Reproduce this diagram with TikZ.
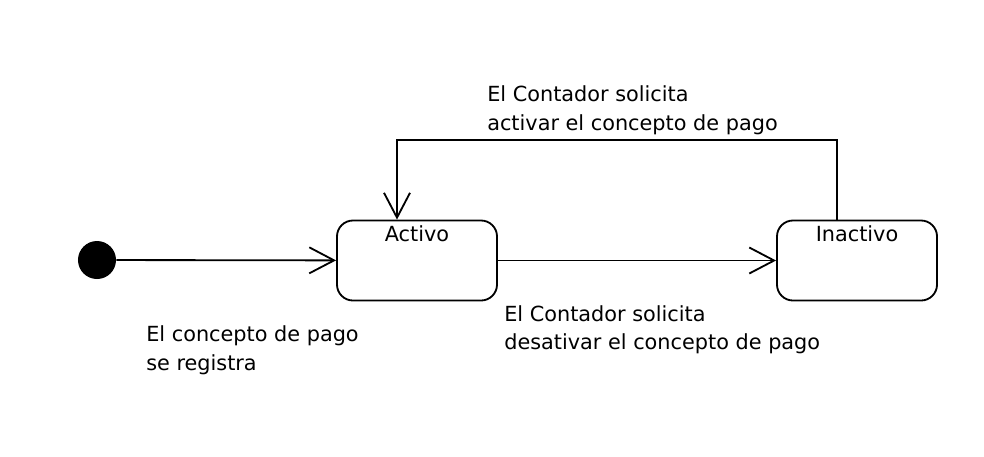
\documentclass[tikz,border=0pt]{standalone}
\usepackage{fontspec}
\setmainfont{DejaVu Sans}
\usetikzlibrary{arrows.meta,positioning}

\begin{document}
\begin{tikzpicture}[x=0.025cm, y=-0.025cm,
  every node/.style={font=\fontsize{14.8}{20}\selectfont},
  stbox/.style={draw, line width=1.3pt, rounded corners=0.4cm, minimum width=4cm, minimum height=2cm, inner sep=0pt},
  init/.style={circle, fill=black, minimum size=0.95cm, inner sep=0pt},
  txt/.style={align=left, anchor=base west, inner sep=0pt},
  arr/.style={-{Straight Barb[length=0.62cm, width=0.65cm, line width=1.3pt]}, line width=1.3pt}
]
\useasboundingbox (0,0) rectangle (984,456);
\node[init] (start) at (97,260) {};
\node[stbox, label={[anchor=base, yshift=-0.54cm]north:Activo}] (activo) at (417,260.5) {};
\node[stbox, label={[anchor=base, yshift=-0.54cm]north:Inactivo}] (inactivo) at (857,260.5) {};

% base anchor sits on the last line
\node[txt] (lblreg) at (146,370) {El concepto de pago\\se registra};
\node[txt] (lbldes) at (504,349.5) {El Contador solicita\\desativar el concepto de pago};
\node[txt] (lblact) at (487,130) {El Contador solicita\\activar el concepto de pago};

\draw[arr] (start) -- (activo);
\draw[arr] (activo) -- (inactivo);
\draw[arr] ([xshift=-0.5cm]inactivo.north) -- ++(0,-79.5) -| ([xshift=-0.5cm]activo.north);
\end{tikzpicture}
\end{document}
